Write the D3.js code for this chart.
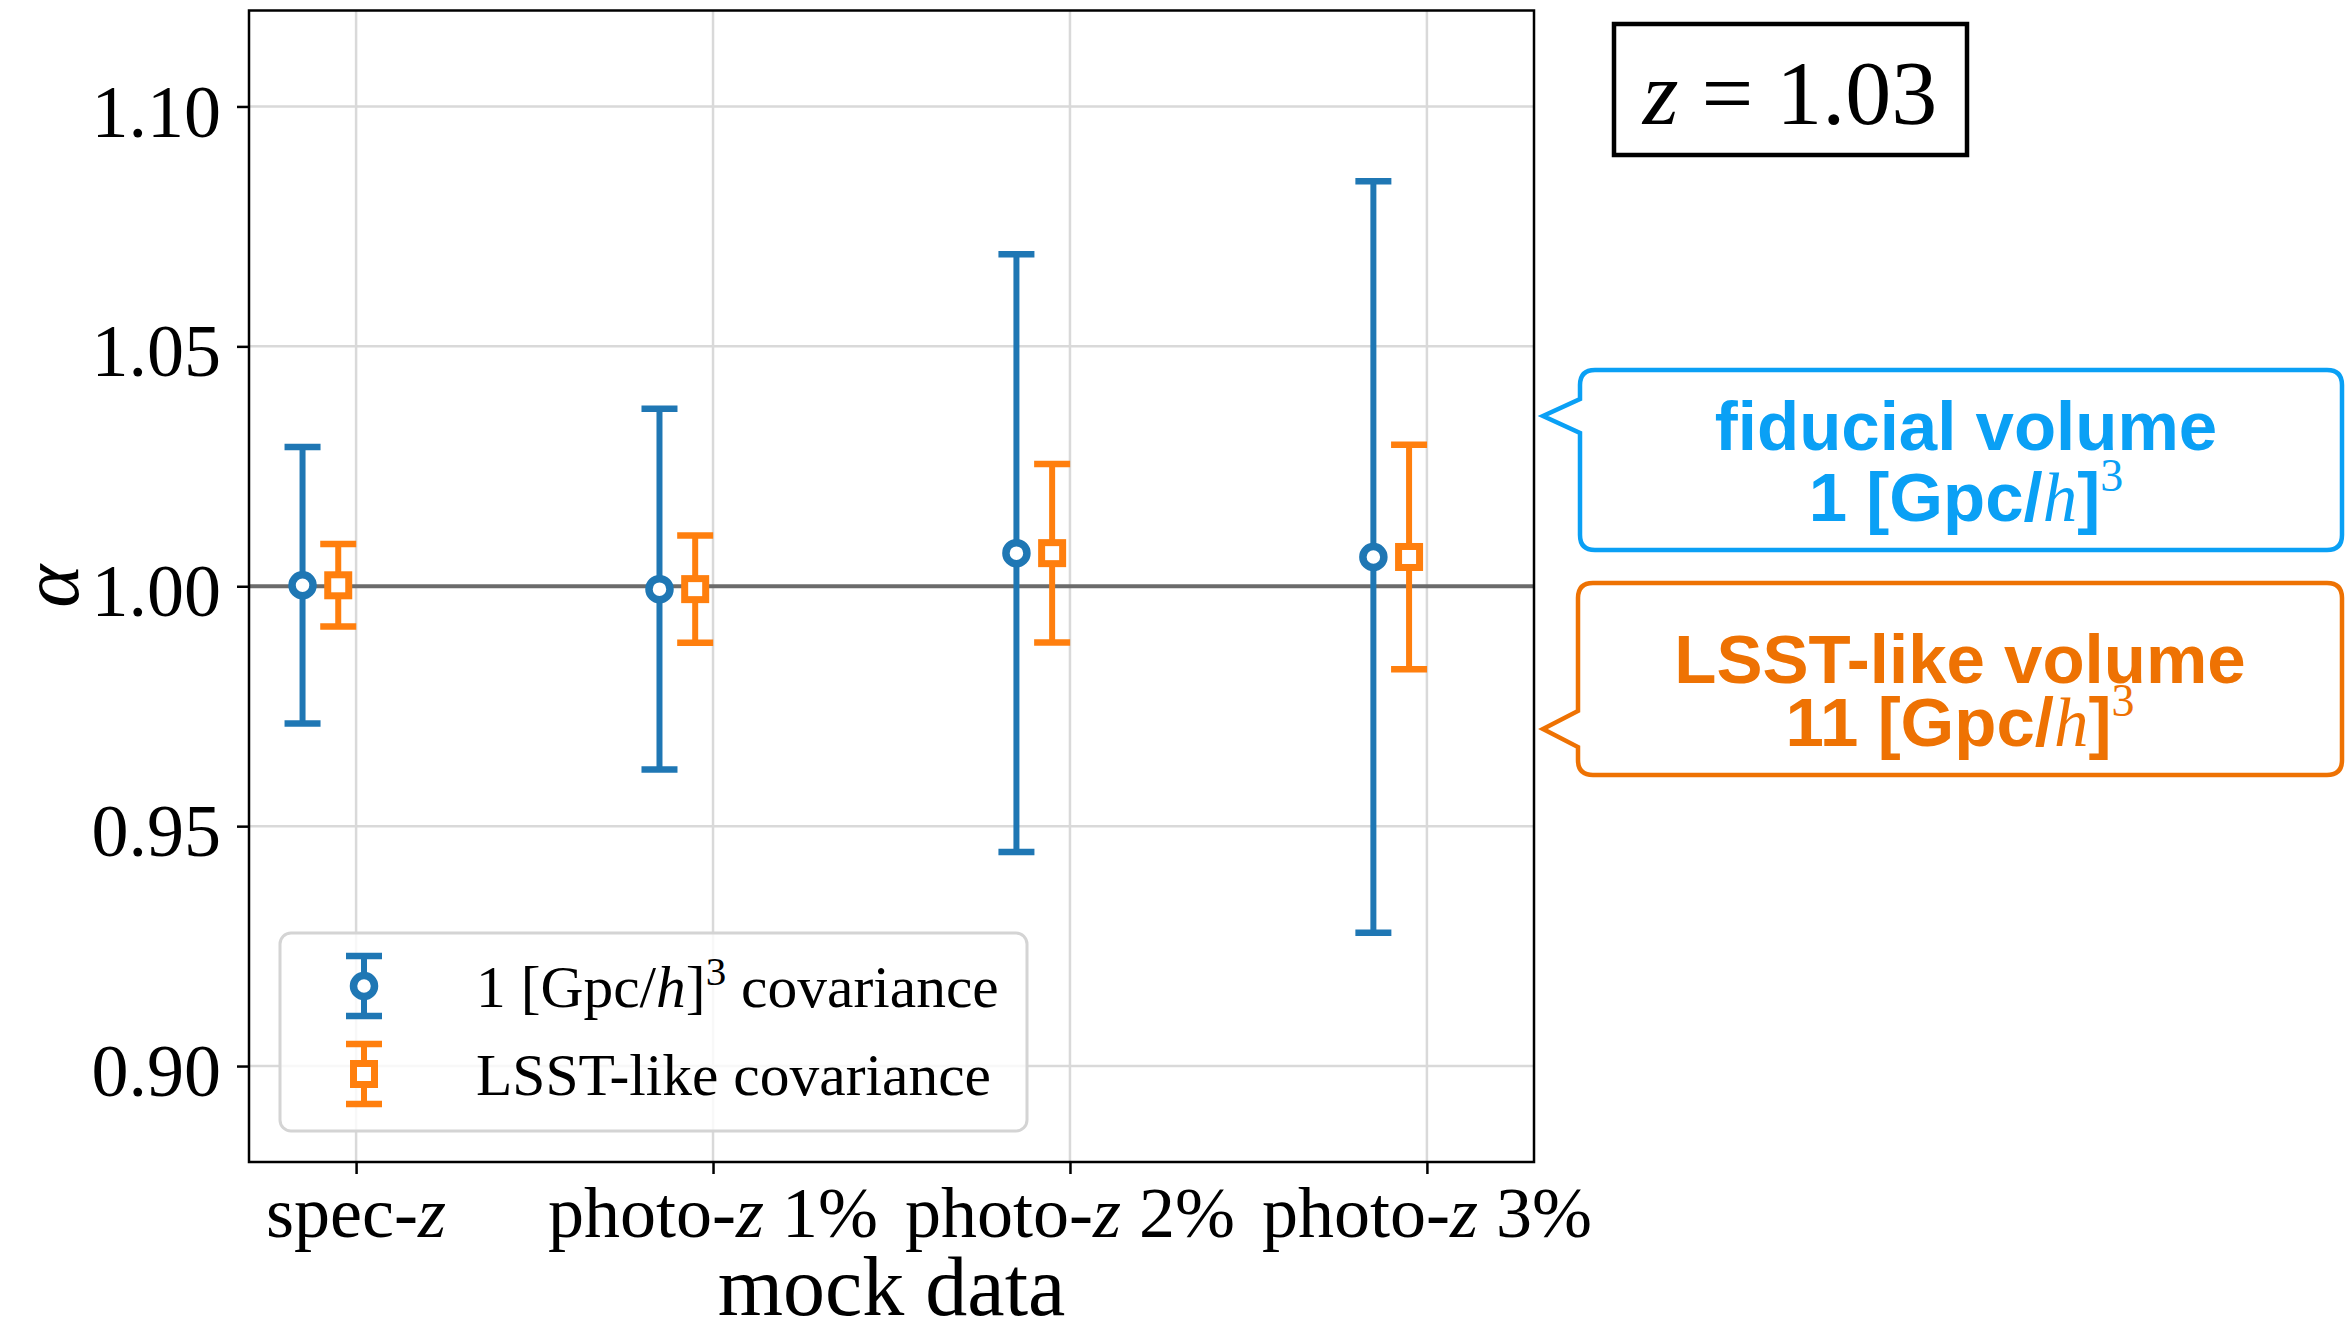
<!DOCTYPE html>
<html>
<head>
<meta charset="utf-8">
<script src="https://cdn.jsdelivr.net/npm/d3@7"></script>
<style>
  html, body { margin: 0; padding: 0; background: #fff; }
  svg { display: block; }
</style>
</head>
<body>
<svg id="chart" width="2346" height="1335"></svg>
<script>
// ---------------- data ----------------
const categories = ["spec-z", "photo-z 1%", "photo-z 2%", "photo-z 3%"];
const fiducialMean = [1.0002, 0.9994, 1.0069, 1.0061];
const fiducialErr  = [0.0288, 0.0376, 0.0623, 0.0783];
const lsstMean     = [1.0002, 0.9994, 1.0069, 1.0061];
const lsstErr      = [0.0086, 0.0112, 0.0186, 0.0234];
const yTicks = [0.90, 0.95, 1.00, 1.05, 1.10];
const legendLabels = ["1 [Gpc/h]3 covariance", "LSST-like covariance"];
const redshiftLabel = "1.03";

// ---------------- layout ----------------
const svg = d3.select("#chart");
const L = 249, R = 1534, T = 10.5, B = 1162;
const serif = "'Liberation Serif', 'Times New Roman', serif";
const sans = "'Liberation Sans', Arial, Helvetica, sans-serif";
const blue = "#1f77b4", orange = "#ff7f0e";

const x = d3.scaleLinear().domain([-0.3, 3.3]).range([L, R]);
const y = d3.scaleLinear().domain([0.88, 1.12]).range([B, T]);

// grid
const grid = svg.append("g");
grid.selectAll(".gy").data(yTicks).join("line")
  .attr("x1", L).attr("x2", R)
  .attr("y1", d => y(d)).attr("y2", d => y(d))
  .attr("stroke", "#d9d9d9").attr("stroke-width", 2.5);
grid.selectAll(".gx").data(categories).join("line")
  .attr("x1", (d, i) => x(i)).attr("x2", (d, i) => x(i))
  .attr("y1", T).attr("y2", B)
  .attr("stroke", "#d9d9d9").attr("stroke-width", 2.5);

// reference line at alpha = 1
svg.append("line")
  .attr("x1", L).attr("x2", R).attr("y1", y(1)).attr("y2", y(1))
  .attr("stroke", "#6b6b6b").attr("stroke-width", 4);

// error bars
function drawSeries(means, errs, offset, color, shape) {
  const g = svg.append("g");
  const data = means.map((m, i) => ({ i, m, e: errs[i] }));
  const capW = 18;
  g.selectAll(".v").data(data).join("line")
    .attr("x1", d => x(d.i + offset)).attr("x2", d => x(d.i + offset))
    .attr("y1", d => y(d.m - d.e)).attr("y2", d => y(d.m + d.e))
    .attr("stroke", color).attr("stroke-width", 6);
  g.selectAll(".ct").data(data).join("line")
    .attr("x1", d => x(d.i + offset) - capW).attr("x2", d => x(d.i + offset) + capW)
    .attr("y1", d => y(d.m + d.e)).attr("y2", d => y(d.m + d.e))
    .attr("stroke", color).attr("stroke-width", 6.5);
  g.selectAll(".cb").data(data).join("line")
    .attr("x1", d => x(d.i + offset) - capW).attr("x2", d => x(d.i + offset) + capW)
    .attr("y1", d => y(d.m - d.e)).attr("y2", d => y(d.m - d.e))
    .attr("stroke", color).attr("stroke-width", 6.5);
  if (shape === "circle") {
    g.selectAll(".mk").data(data).join("circle")
      .attr("cx", d => x(d.i + offset)).attr("cy", d => y(d.m)).attr("r", 10.5)
      .attr("fill", "#fff").attr("stroke", color).attr("stroke-width", 7.5);
  } else {
    g.selectAll(".mk").data(data).join("rect")
      .attr("x", d => x(d.i + offset) - 10.5).attr("y", d => y(d.m) - 10.5)
      .attr("width", 21).attr("height", 21)
      .attr("fill", "#fff").attr("stroke", color).attr("stroke-width", 7);
  }
}
drawSeries(fiducialMean, fiducialErr, -0.15, blue, "circle");
drawSeries(lsstMean, lsstErr, -0.05, orange, "square");

// axes frame
svg.append("rect").attr("x", L).attr("y", T).attr("width", R - L).attr("height", B - T)
  .attr("fill", "none").attr("stroke", "#000").attr("stroke-width", 2.5);

// y axis
const yAxis = d3.axisLeft(y).tickValues(yTicks).tickFormat(d3.format(".2f"))
  .tickSize(12).tickPadding(16);
const gy = svg.append("g").attr("transform", `translate(${L},0)`).call(yAxis);
gy.select(".domain").remove();
gy.selectAll(".tick line").attr("stroke", "#000").attr("stroke-width", 2.5);
gy.selectAll(".tick text").attr("font-family", serif).attr("font-size", 74)
  .attr("fill", "#000").attr("dy", "0.4em");

// x axis
const xAxis = d3.axisBottom(x).tickValues(categories.map((d, i) => i))
  .tickFormat("").tickSize(12);
const gx = svg.append("g").attr("transform", `translate(0,${B})`).call(xAxis);
gx.select(".domain").remove();
gx.selectAll(".tick line").attr("stroke", "#000").attr("stroke-width", 2.5);

const xl = svg.append("g");
categories.forEach((c, i) => {
  const parts = c.split("-z");
  const t = xl.append("text").attr("x", x(i)).attr("y", 1237)
    .attr("text-anchor", "middle").attr("font-family", serif).attr("font-size", 72);
  t.append("tspan").text(parts[0] + "-");
  t.append("tspan").attr("font-style", "italic").text("z");
  if (parts[1]) t.append("tspan").text(parts[1]);
});

// axis labels
svg.append("text").attr("x", (L + R) / 2).attr("y", 1315)
  .attr("text-anchor", "middle").attr("font-family", serif).attr("font-size", 84)
  .text("mock data");
svg.append("text").attr("transform", `translate(50,${y(1)}) rotate(-90)`)
  .attr("text-anchor", "middle").attr("dominant-baseline", "central")
  .attr("font-family", serif).attr("font-style", "italic")
  .attr("font-size", 82).text("α");

// legend
const lg = svg.append("g");
lg.append("rect").attr("x", 280).attr("y", 933).attr("width", 747).attr("height", 198)
  .attr("rx", 11).attr("fill", "#fff").attr("fill-opacity", 0.8)
  .attr("stroke", "#d4d4d4").attr("stroke-width", 3);
const legendRows = [
  { label: legendLabels[0], color: blue, shape: "circle", cy: 986, ty: 1007 },
  { label: legendLabels[1], color: orange, shape: "square", cy: 1074, ty: 1095 }
];
legendRows.forEach(r => {
  const mx = 364;
  lg.append("line").attr("x1", mx).attr("x2", mx).attr("y1", r.cy - 30).attr("y2", r.cy + 30)
    .attr("stroke", r.color).attr("stroke-width", 6);
  [r.cy - 30, r.cy + 30].forEach(yy => lg.append("line")
    .attr("x1", mx - 18).attr("x2", mx + 18).attr("y1", yy).attr("y2", yy)
    .attr("stroke", r.color).attr("stroke-width", 6.5));
  if (r.shape === "circle") {
    lg.append("circle").attr("cx", mx).attr("cy", r.cy).attr("r", 10.5)
      .attr("fill", "#fff").attr("stroke", r.color).attr("stroke-width", 7.5);
  } else {
    lg.append("rect").attr("x", mx - 10.5).attr("y", r.cy - 10.5).attr("width", 21).attr("height", 21)
      .attr("fill", "#fff").attr("stroke", r.color).attr("stroke-width", 7);
  }
  const t = lg.append("text").attr("x", 476).attr("y", r.ty)
    .attr("font-family", serif).attr("font-size", 59.5).attr("fill", "#000");
  if (r.label.indexOf("h]3") >= 0) {
    const m = r.label.match(/^(.*)h\]3(.*)$/);
    t.append("tspan").text(m[1]);
    t.append("tspan").attr("font-style", "italic").text("h");
    t.append("tspan").text("]");
    t.append("tspan").attr("font-size", 41).attr("dy", -22).text("3");
    t.append("tspan").attr("dy", 22).text(m[2]);
  } else {
    t.text(r.label);
  }
});

// redshift box
svg.append("rect").attr("x", 1614).attr("y", 24).attr("width", 353).attr("height", 131)
  .attr("fill", "#fff").attr("stroke", "#000").attr("stroke-width", 4.5);
const zt = svg.append("text").attr("x", 1790).attr("y", 124).attr("text-anchor", "middle")
  .attr("font-family", serif).attr("font-size", 92);
zt.append("tspan").attr("font-style", "italic").text("z");
zt.append("tspan").text(" = " + redshiftLabel);

// callouts
function callout(x0, y0, x1, y1, r, tx, ty, b0, b1, color) {
  const p = `M${x0 + r},${y0} H${x1 - r} Q${x1},${y0} ${x1},${y0 + r} V${y1 - r} Q${x1},${y1} ${x1 - r},${y1}` +
    ` H${x0 + r} Q${x0},${y1} ${x0},${y1 - r} V${b1} L${tx},${ty} L${x0},${b0} V${y0 + r} Q${x0},${y0} ${x0 + r},${y0} Z`;
  svg.append("path").attr("d", p).attr("fill", "#fff").attr("stroke", color).attr("stroke-width", 4.5);
}
const cBlue = "#0aa0f5", cOrange = "#ee7203";
callout(1580, 370, 2342, 550, 15, 1543, 416, 399, 433, cBlue);
callout(1578, 583, 2342, 775, 15, 1543, 729, 711, 747, cOrange);

function calloutText(cx, y1, y2, line1, num, color) {
  svg.append("text").attr("x", cx).attr("y", y1).attr("text-anchor", "middle")
    .attr("font-family", sans).attr("font-weight", "bold").attr("font-size", 69)
    .attr("fill", color).text(line1);
  const t = svg.append("text").attr("x", cx).attr("y", y2).attr("text-anchor", "middle")
    .attr("font-family", sans).attr("font-weight", "bold").attr("font-size", 69).attr("fill", color);
  t.append("tspan").text(num + " [Gpc/");
  t.append("tspan").attr("font-family", serif).attr("font-style", "italic").attr("font-weight", "normal").text("h");
  t.append("tspan").text("]");
  t.append("tspan").attr("font-family", serif).attr("font-weight", "normal").attr("font-size", 46)
    .attr("dy", -30).text("3");
}
calloutText(1966, 450, 521, "fiducial volume", "1", cBlue);
calloutText(1960, 683, 746, "LSST-like volume", "11", cOrange);
</script>
</body>
</html>
